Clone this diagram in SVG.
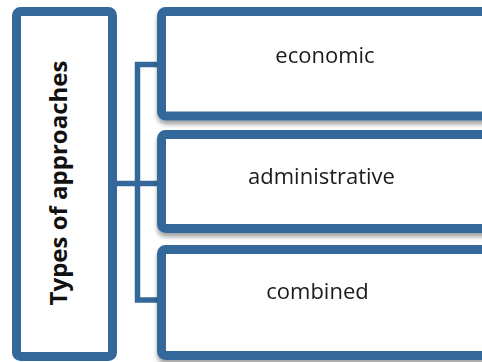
<svg xmlns="http://www.w3.org/2000/svg" width="482" height="362" viewBox="0 0 482 362">
<defs>
<filter id="sh" x="-10%" y="-10%" width="130%" height="130%">
<feGaussianBlur in="SourceAlpha" stdDeviation="2"/>
<feOffset dx="0" dy="4" result="b"/>
<feComponentTransfer><feFuncA type="linear" slope="0.35"/></feComponentTransfer>
<feMerge><feMergeNode/><feMergeNode in="SourceGraphic"/></feMerge>
</filter>
</defs>
<style>
.box{fill:#ffffff;stroke:#34679a;stroke-width:9}
.con{fill:none;stroke:#34679a;stroke-width:5.5}
.lbl{font-family:"Open Sans","Noto Sans",sans-serif;font-size:22px;fill:#1a1a1a;text-anchor:middle}
.ttl{font-family:"Open Sans","Noto Sans",sans-serif;font-size:24px;font-weight:bold;fill:#111;text-anchor:middle}
</style>
<rect width="482" height="362" fill="#ffffff"/>
<g id="connectors">
<path class="con" d="M157,64.5 H137.5 V300 H157"/>
<path class="con" d="M117,183.5 H157"/>
</g>
<g id="node-types">
<rect class="box" x="16.5" y="11.5" width="96" height="345" rx="4"/>
<text class="ttl" transform="translate(67,183) rotate(-90)">Types of approaches</text>
</g>
<g id="node-economic" filter="url(#sh)">
<rect class="box" x="161.5" y="11.5" width="340" height="104.5" rx="4"/>
<text class="lbl" x="325" y="63">economic</text>
</g>
<g id="node-administrative" filter="url(#sh)">
<rect class="box" x="161.5" y="134.5" width="340" height="94" rx="4"/>
<text class="lbl" x="321.5" y="184">administrative</text>
</g>
<g id="node-combined" filter="url(#sh)">
<rect class="box" x="161.5" y="249.5" width="340" height="106" rx="4"/>
<text class="lbl" x="317.5" y="299">combined</text>
</g>
</svg>
